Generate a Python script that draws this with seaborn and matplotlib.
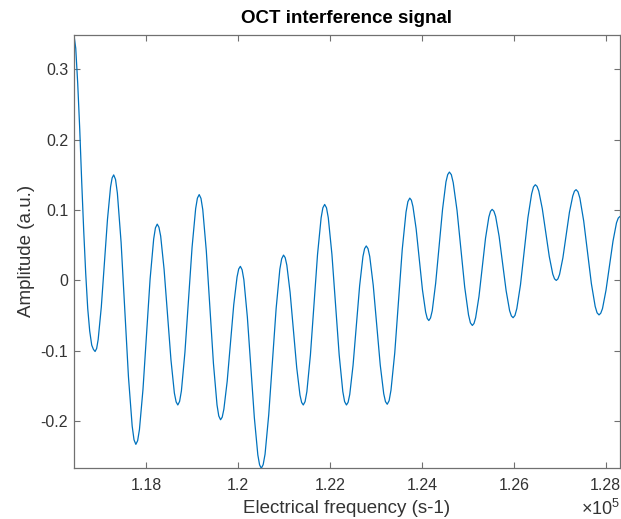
import matplotlib
matplotlib.use("Agg")
import matplotlib.pyplot as plt
import seaborn as sns
import pandas as pd
from matplotlib.ticker import FixedLocator, FuncFormatter

# ---- data ----
freq_hz = [
    116424, 116428, 116468, 116511, 116555, 116598, 116642, 116685, 116729, 116772, 116816, 116853,
    116889, 116923, 116956, 117024, 117091, 117159, 117226, 117260,
    117294, 117334, 117374, 117455, 117535, 117615, 117696, 117736,
    117776, 117815, 117854, 117931, 118009, 118086, 118164, 118202,
    118241, 118278, 118316, 118390, 118465, 118540, 118614, 118652,
    118689, 118728, 118767, 118844, 118922, 118999, 119077, 119115,
    119154, 119193, 119232, 119309, 119387, 119464, 119542, 119580,
    119619, 119655, 119691, 119763, 119835, 119906, 119978, 120014,
    120050, 120088, 120126, 120202, 120278, 120354, 120430, 120468,
    120506, 120546, 120587, 120667, 120748, 120828, 120909, 120949,
    120989, 121025, 121061, 121132, 121204, 121276, 121347, 121383,
    121419, 121458, 121497, 121574, 121652, 121729, 121807, 121845,
    121884, 121924, 121963, 122042, 122121, 122200, 122279, 122318,
    122358, 122394, 122430, 122502, 122574, 122645, 122717, 122753,
    122789, 122827, 122865, 122941, 123017, 123093, 123169, 123207,
    123245, 123286, 123327, 123409, 123491, 123572, 123654, 123695,
    123736, 123771, 123805, 123874, 123943, 124012, 124081, 124116,
    124150, 124187, 124225, 124299, 124374, 124449, 124523, 124561,
    124598, 124640, 124681, 124764, 124848, 124931, 125014, 125055,
    125097, 125133, 125169, 125241, 125313, 125384, 125456, 125492,
    125528, 125566, 125604, 125680, 125756, 125832, 125908, 125946,
    125984, 126024, 126065, 126145, 126226, 126306, 126387, 126427,
    126467, 126505, 126543, 126619, 126695, 126771, 126847, 126885,
    126923, 126959, 126995, 127067, 127139, 127210, 127282, 127318,
    127354, 127396, 127437, 127520, 127604, 127687, 127770, 127811,
    127853, 127891, 127929, 128005, 128082, 128158, 128234, 128272,
    128310,
]
amplitude = [
    0.174, 0.3495, 0.330, 0.280, 0.215, 0.140, 0.070, 0.010, -0.040, -0.072, -0.092, -0.098,
    -0.101, -0.0967, -0.084, -0.038, 0.0245, 0.087, 0.133, 0.1457,
    0.150, 0.1435, 0.124, 0.054, -0.042, -0.137, -0.207, -0.2265,
    -0.233, -0.2277, -0.212, -0.155, -0.0765, 0.002, 0.059, 0.0747,
    0.080, 0.0756, 0.063, 0.016, -0.0485, -0.113, -0.160, -0.1726,
    -0.177, -0.1719, -0.157, -0.102, -0.0275, 0.047, 0.102, 0.1169,
    0.122, 0.1166, 0.1006, 0.042, -0.038, -0.118, -0.177, -0.1926,
    -0.198, -0.1943, -0.183, -0.1435, -0.089, -0.0345, 0.005, 0.0163,
    0.020, 0.0151, 0.001, -0.052, -0.1235, -0.195, -0.248, -0.2621,
    -0.267, -0.2618, -0.247, -0.191, -0.1155, -0.040, 0.016, 0.0308,
    0.036, 0.0324, 0.0217, -0.017, -0.0705, -0.124, -0.163, -0.1734,
    -0.177, -0.1722, -0.158, -0.106, -0.0345, 0.037, 0.089, 0.1032,
    0.108, 0.1032, 0.089, 0.037, -0.0345, -0.106, -0.158, -0.1722,
    -0.177, -0.1732, -0.162, -0.1205, -0.064, -0.0075, 0.034, 0.0452,
    0.049, 0.0452, 0.034, -0.007, -0.0635, -0.120, -0.161, -0.1722,
    -0.176, -0.171, -0.156, -0.103, -0.0295, 0.044, 0.097, 0.112,
    0.117, 0.114, 0.105, 0.0735, 0.030, -0.0135, -0.045, -0.054,
    -0.057, -0.0534, -0.043, -0.004, 0.0485, 0.101, 0.140, 0.1504,
    0.154, 0.1503, 0.139, 0.0995, 0.045, -0.0095, -0.049, -0.0603,
    -0.064, -0.0612, -0.053, -0.023, 0.0185, 0.060, 0.090, 0.0982,
    0.101, 0.0984, 0.091, 0.0625, 0.024, -0.0145, -0.043, -0.0504,
    -0.053, -0.0498, -0.040, -0.006, 0.0415, 0.089, 0.123, 0.1328,
    0.136, 0.1337, 0.127, 0.102, 0.068, 0.034, 0.009, 0.0023,
    0.000, 0.0022, 0.0086, 0.032, 0.0645, 0.097, 0.120, 0.1268,
    0.129, 0.126, 0.117, 0.0845, 0.040, -0.0045, -0.037, -0.046,
    -0.049, -0.0466, -0.040, -0.014, 0.021, 0.056, 0.082, 0.0886,
    0.091,
]
x_ticks = [118000, 120000, 122000, 124000, 126000, 128000]
y_ticks = [-0.2, -0.1, 0, 0.1, 0.2, 0.3]
title_text = "OCT interference signal"
x_label = "Electrical frequency (s-1)"
y_label = "Amplitude (a.u.)"
x_exponent = 5

sns.set_style("white")
plt.rcParams["font.family"] = ["Liberation Sans", "DejaVu Sans"]
plt.rcParams["axes.unicode_minus"] = False
plt.rcParams["mathtext.fontset"] = "custom"
plt.rcParams["mathtext.rm"] = "Liberation Sans"

df = pd.DataFrame({"freq": freq_hz, "amp": amplitude})

fig = plt.figure(figsize=(6.21, 5.19), dpi=100)
fig.patch.set_facecolor("white")
ax = fig.add_axes([0.1187, 0.0977, 0.8797, 0.8358])

sns.lineplot(data=df, x="freq", y="amp", ax=ax, color="#0072BD",
             linewidth=0.9, estimator=None, sort=True)

ax.set_xlim(min(freq_hz), max(freq_hz))
ax.set_ylim(min(amplitude), max(amplitude))

ax.xaxis.set_major_locator(FixedLocator(x_ticks))
ax.yaxis.set_major_locator(FixedLocator(y_ticks))
ax.xaxis.set_major_formatter(FuncFormatter(lambda v, p: "%g" % (v / 10 ** x_exponent)))
ax.yaxis.set_major_formatter(FuncFormatter(lambda v, p: "%g" % round(v, 3)))

edge = "#707070"
for s in ax.spines.values():
    s.set_visible(True)
    s.set_color(edge)
    s.set_linewidth(0.9)

ax.tick_params(axis="both", which="major", direction="in", length=4, width=0.8,
               color=edge, labelcolor="#333333", labelsize=11.5,
               top=True, right=True, bottom=True, left=True)
ax.tick_params(axis="x", pad=7)
ax.tick_params(axis="y", pad=4)

ax.set_title(title_text, fontsize=13.5, fontweight="bold", color="black", pad=8)
ax.set_xlabel(x_label, fontsize=13.5, color="#333333", labelpad=5)
ax.set_ylabel(y_label, fontsize=13.5, color="#333333", labelpad=4)

fig.text(0.999, 0.0, r"$\times\mathregular{10^{%d}}$" % x_exponent,
         ha="right", va="bottom", fontsize=13, color="#333333")

fig.savefig("out.png", dpi=100, facecolor="white")
